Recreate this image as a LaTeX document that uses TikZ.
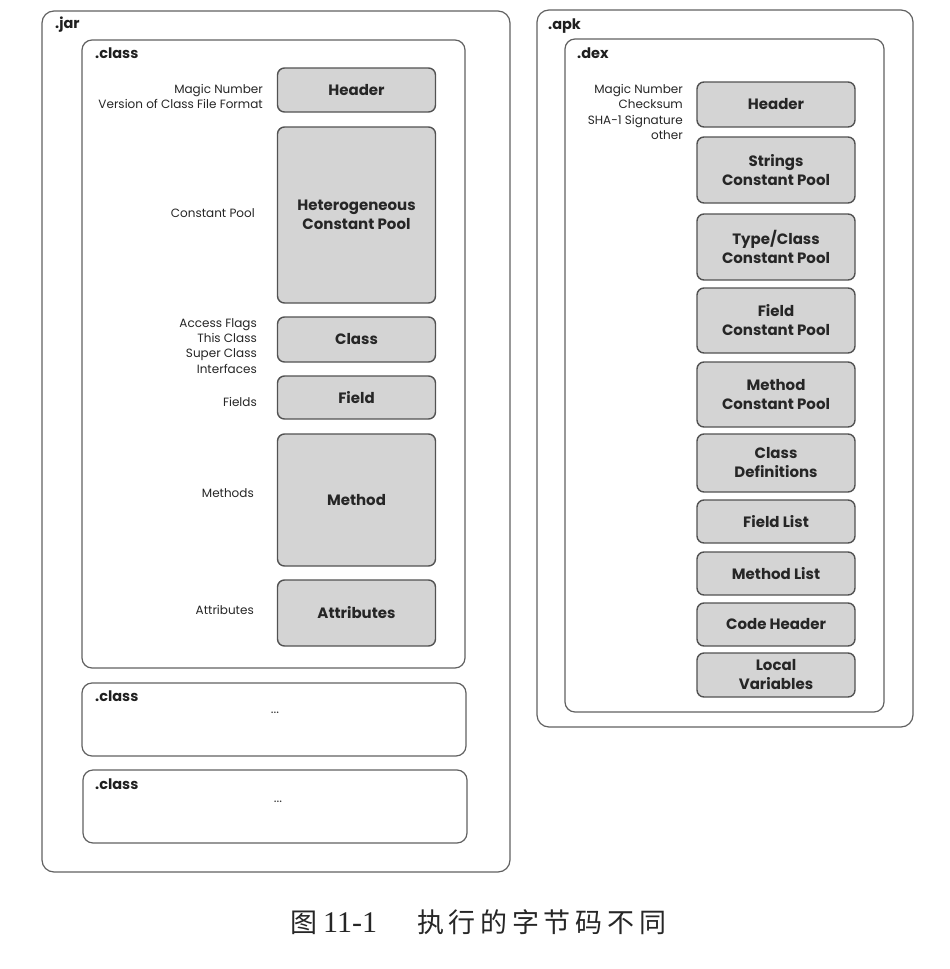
\documentclass[tikz,border=0pt]{standalone}
\usepackage{fontspec}
\setmainfont{Poppins}
\newfontfamily\cjk{Noto Sans CJK SC}
\newfontfamily\capserif{Liberation Serif}
\newcommand{\cs}{\hspace{4.7pt}}
\begin{document}
\begin{tikzpicture}[x=1pt,y=-1pt,
  outerbox/.style={draw=black!62, line width=1.2pt, rounded corners=12pt, fill=white, inner sep=0pt},
  innerbox/.style={draw=black!62, line width=1.2pt, rounded corners=10pt, fill=white, inner sep=0pt},
  graybox/.style={draw=black!68, line width=1.4pt, fill=black!17, rounded corners=7pt, inner sep=0pt,
    font=\bfseries\fontsize{15}{19}\selectfont, align=center, text=black!85, minimum width=158pt},
  note/.style={font=\fontsize{12}{15.2}\selectfont, align=right, anchor=east, inner sep=0pt, text=black!85},
  tag/.style={font=\bfseries\fontsize{14.5}{16}\selectfont, anchor=west, inner sep=0pt, text=black!88},
  dots/.style={font=\fontsize{13}{14}\selectfont, inner sep=0pt, text=black!80}
]
\useasboundingbox (0,0) rectangle (950,969);
\fill[white] (0,0) rectangle (950,969);

% ---------- left: .jar ----------
\node[outerbox, minimum width=468pt, minimum height=861pt] (jar) at (276,441.5) {};
\node[tag] (jartag) at (55,25) {.jar};

\node[innerbox, minimum width=383pt, minimum height=628pt] (cls1) at (273.5,354) {};
\node[tag] (cls1tag) at (95,53) {.class};

\node[graybox, minimum height=44pt] (hdr) at (356.5,90) {Header};
\node[graybox, minimum height=176pt] (hcp) at (356.5,215) {Heterogeneous\\Constant Pool};
\node[graybox, minimum height=45pt] (cls) at (356.5,339.5) {Class};
\node[graybox, minimum height=43pt] (fld) at (356.5,397.5) {Field};
\node[graybox, minimum height=132pt] (mth) at (356.5,500) {Method};
\node[graybox, minimum height=66pt] (att) at (356.5,613) {Attributes};

\node[note] (nhdr) at (263,96.5) {Magic Number\\Version of Class File Format};
\node[note] (nhcp) at (255,213) {Constant Pool};
\node[note] (ncls) at (257,346) {Access Flags\\This Class\\Super Class\\Interfaces};
\node[note] (nfld) at (257,402) {Fields};
\node[note] (nmth) at (254,493) {Methods};
\node[note] (natt) at (254,610) {Attributes};

\node[innerbox, minimum width=384pt, minimum height=73pt] (cls2) at (274,719.5) {};
\node[tag] (cls2tag) at (95,696) {.class};
\node[dots] (dots2) at (275,713) {...};

\node[innerbox, minimum width=384pt, minimum height=73pt] (cls3) at (275,806.5) {};
\node[tag] (cls3tag) at (95,784) {.class};
\node[dots] (dots3) at (278,802) {...};

% ---------- right: .apk ----------
\node[outerbox, minimum width=376pt, minimum height=717pt] (apk) at (725,368.5) {};
\node[tag] (apktag) at (548,26) {.apk};

\node[innerbox, minimum width=319pt, minimum height=673pt] (dex) at (724.5,375.5) {};
\node[tag] (dextag) at (577,53) {.dex};

\node[graybox, minimum height=45pt] (dhdr) at (776,104.5) {Header};
\node[graybox, minimum height=66pt] (dstr) at (776,170) {Strings\\Constant Pool};
\node[graybox, minimum height=66pt] (dtyp) at (776,247) {Type/Class\\Constant Pool};
\node[graybox, minimum height=65pt] (dfcp) at (776,320.5) {Field\\Constant Pool};
\node[graybox, minimum height=65pt] (dmcp) at (776,394.5) {Method\\Constant Pool};
\node[graybox, minimum height=58pt] (dcd) at (776,463) {Class\\Definitions};
\node[graybox, minimum height=43pt] (dfl) at (776,521.5) {Field List};
\node[graybox, minimum height=43pt] (dml) at (776,573.5) {Method List};
\node[graybox, minimum height=43pt] (dch) at (776,624.5) {Code Header};
\node[graybox, minimum height=44pt] (dlv) at (776,675) {Local\\Variables};

\node[note] (ndhdr) at (683,112) {Magic Number\\Checksum\\SHA-1 Signature\\other};

% ---------- caption ----------
\node[anchor=base west, inner sep=0pt, text=black!85] (capnum) at (290,932)
  {{\cjk\fontsize{27}{30}\selectfont 图}\hspace{6pt}{\capserif\fontsize{30}{32}\selectfont 11-1}};
\node[anchor=base west, inner sep=0pt, text=black!85, font=\cjk\fontsize{27}{30}\selectfont] (captext) at (417,932)
  {执\cs 行\cs 的\cs 字\cs 节\cs 码\cs 不\cs 同};
\end{tikzpicture}
\end{document}
